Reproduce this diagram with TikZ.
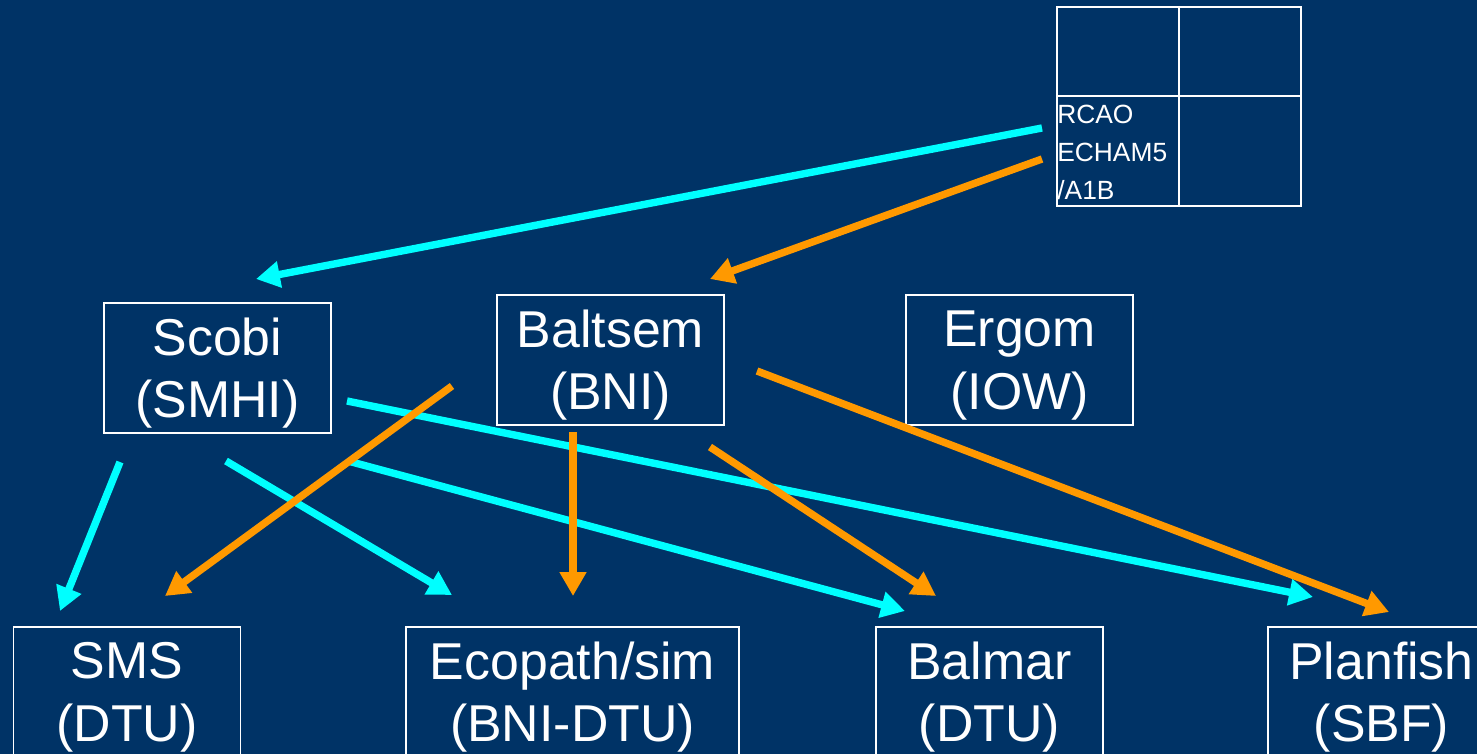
\documentclass[tikz,border=0pt]{standalone}
\usepackage{fontspec}
\setmainfont{Liberation Sans}
\usetikzlibrary{calc,arrows.meta}
\definecolor{slidebg}{RGB}{0,51,102}
\definecolor{linkcyan}{RGB}{0,255,255}
\definecolor{linkorange}{RGB}{255,153,0}
\tikzset{
  model/.style={draw=white,line width=1pt,minimum width=4.54cm,minimum height=2.6cm,inner sep=0pt,
    align=center,text=white,text depth=0pt,font=\fontsize{29.5}{35.5}\selectfont},
  link/.style={line width=4.2pt,-{Triangle[length=13.6pt,width=14.5pt]}},
}

\begin{document}
\begin{tikzpicture}[x=0.02cm,y=-0.02cm]
              \useasboundingbox (0,0) rectangle (1477,754);
              \clip (0,0) rectangle (1477,754);
              \fill[slidebg] (0,0) rectangle (1477,754);
              % forcing table
              \node[draw=white,line width=1.3pt,minimum width=4.88cm,minimum height=3.98cm,inner sep=0pt](gcm)at(1179,106.5){};
              \draw[white,line width=1.3pt](gcm.north)--(gcm.south);
              \draw[white,line width=1.3pt]($(gcm.north west)+(0,90)$)--($(gcm.north east)+(0,90)$);
              \node[anchor=north west,inner sep=0pt,align=left,text=white,font=\fontsize{15}{21.5}\selectfont](forcing)at(1057,105){RCAO\\ECHAM5\\/A1B};
              % models
              \node[model](scobi)at(217.5,368){Scobi\\(SMHI)};
              \node[model](baltsem)at(610.5,360){Baltsem\\(BNI)};
              \node[model](ergom)at(1019.5,360){Ergom\\(IOW)};
              \node[model](sms)at(127,692){SMS\\(DTU)};
              \node[model,minimum width=6.66cm](ecopath)at(572.5,692){Ecopath/sim\\(BNI-DTU)};
              \node[model](balmar)at(989.5,692){Balmar\\(DTU)};
              \node[model](planfish)at(1381.5,692){Planfish\\(SBF)};
              % arrow ends
              \coordinate(gcm-c)at(1042,128);
              \coordinate(gcm-o)at(1042,159);
              \coordinate(scobi-in)at(256,279);
              \coordinate(baltsem-in)at(710,279);
              \coordinate(scobi-sms)at(120,462);
              \coordinate(scobi-eco)at(226,461);
              \coordinate(scobi-bal)at(348,461);
              \coordinate(scobi-pla)at(347,401);
              \coordinate(baltsem-sms)at(452,386);
              \coordinate(baltsem-eco)at(573,432);
              \coordinate(baltsem-bal)at(710,447);
              \coordinate(baltsem-pla)at(757,371);
              \coordinate(sms-c)at(60,611);
              \coordinate(sms-o)at(165,596);
              \coordinate(eco-c)at(452,595);
              \coordinate(eco-o)at(573,596);
              \coordinate(bal-c)at(905,611);
              \coordinate(bal-o)at(936,596);
              \coordinate(pla-c)at(1313,597);
              \coordinate(pla-o)at(1389,612);
              % links
              \draw[link,linkcyan](gcm-c)--(scobi-in);
              \draw[link,linkcyan](scobi-sms)--(sms-c);
              \draw[link,linkcyan](scobi-eco)--(eco-c);
              \draw[link,linkcyan](scobi-bal)--(bal-c);
              \draw[link,linkcyan](scobi-pla)--(pla-c);
              \draw[link,linkorange](gcm-o)--(baltsem-in);
              \draw[link,linkorange](baltsem-sms)--(sms-o);
              \draw[link,linkorange](baltsem-eco)--(eco-o);
              \draw[link,linkorange](baltsem-bal)--(bal-o);
              \draw[link,linkorange](baltsem-pla)--(pla-o);
            \end{tikzpicture}
\end{document}
